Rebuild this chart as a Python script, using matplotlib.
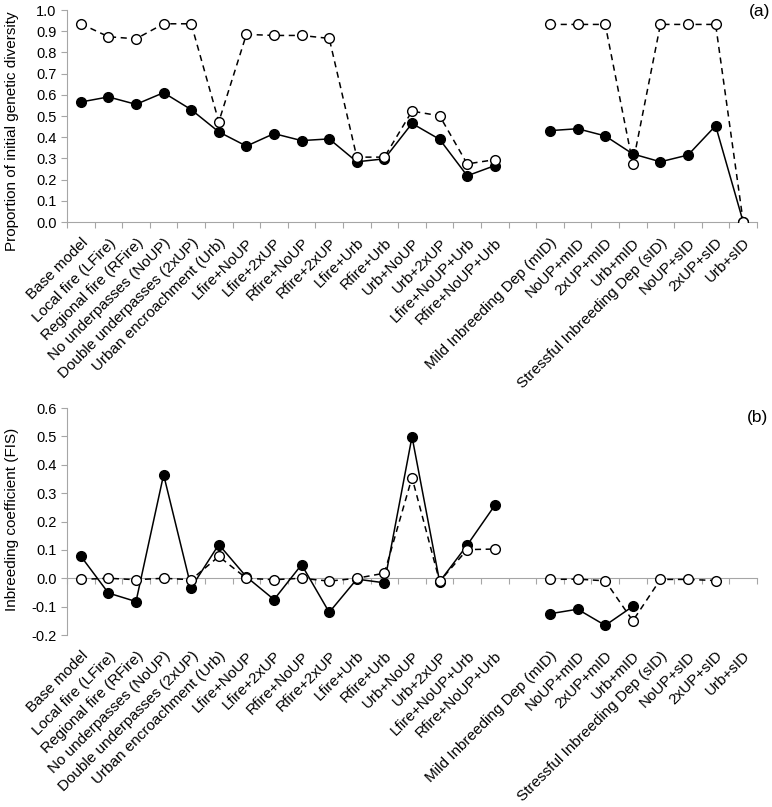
import numpy as np
import matplotlib
matplotlib.use('Agg')
import matplotlib.pyplot as plt

plt.rcParams['font.family'] = ['Liberation Sans', 'DejaVu Sans']

# Scenario names (blank slot separates the two groups)
scenarios = [
    'Base model', 'Local fire (LFire)', 'Regional fire (RFire)',
    'No underpasses (NoUP)', 'Double underpasses (2xUP)',
    'Urban encroachment (Urb)', 'Lfire+NoUP', 'Lfire+2xUP', 'Rfire+NoUP',
    'Rfire+2xUP', 'Lfire+Urb', 'Rfire+Urb', 'Urb+NoUP', 'Urb+2xUP',
    'Lfire+NoUP+Urb', 'Rfire+NoUP+Urb', '',
    'Mild Inbreeding Dep (mID)', 'NoUP+mID', '2xUP+mID', 'Urb+mID',
    'Stressful Inbreeding Dep (sID)', 'NoUP+sID', '2xUP+sID', 'Urb+sID',
]
nan = np.nan

# (a) proportion of initial genetic diversity
div_filled = [0.566, 0.590, 0.555, 0.610, 0.530, 0.425, 0.358, 0.417, 0.384,
              0.392, 0.284, 0.298, 0.465, 0.390, 0.218, 0.266, nan,
              0.431, 0.440, 0.406, 0.321, 0.284, 0.316, 0.454, 0.0]
div_open = [0.935, 0.874, 0.864, 0.935, 0.935, 0.473, 0.885, 0.880, 0.880,
            0.866, 0.306, 0.306, 0.523, 0.501, 0.274, 0.294, nan,
            0.932, 0.932, 0.932, 0.275, 0.932, 0.932, 0.932, 0.0]

# (b) inbreeding coefficient FIS
fis_filled = [0.078, -0.052, -0.082, 0.365, -0.033, 0.119, 0.005, -0.075, 0.048,
              -0.120, -0.003, -0.016, 0.499, -0.012, 0.117, 0.257, nan,
              -0.125, -0.109, -0.166, -0.099, nan, nan, nan, nan]
fis_open = [-0.004, 0.000, -0.005, 0.000, -0.005, 0.077, 0.000, -0.005, 0.000,
            -0.010, 0.000, 0.018, 0.355, -0.011, 0.101, 0.103, nan,
            -0.004, -0.003, -0.009, -0.150, -0.004, -0.004, -0.008, nan]

grey = '#a6a6a6'
fs = 11
x = np.arange(len(scenarios))

fig = plt.figure(figsize=(7.72, 8.07), dpi=100)
ax_a = fig.add_axes([0.0868, 0.7249, 0.8938, 0.2627])
ax_b = fig.add_axes([0.0868, 0.2131, 0.8938, 0.2813])


def style_axis(ax):
    for s in ['top', 'right', 'bottom']:
        ax.spines[s].set_visible(False)
    ax.spines['left'].set_color(grey)
    ax.tick_params(axis='y', colors=grey, labelcolor='black', length=4,
                   labelsize=10.5)
    ax.set_xlim(-0.5, len(scenarios) - 0.5)
    ax.set_xticks(x)
    ax.set_xticklabels(scenarios, rotation=45, ha='right',
                       rotation_mode='anchor', fontsize=fs)
    ax.tick_params(axis='x', length=0, pad=10)
    # category boundary ticks on a gray zero line
    ylo, yhi = ax.get_ylim()
    loc = (0 - ylo) / (yhi - ylo)
    sec = ax.secondary_xaxis(loc)
    sec.spines['bottom'].set_color(grey)
    sec.set_xticks(np.arange(-0.5, len(scenarios), 1.0))
    sec.tick_params(axis='x', colors=grey, length=4, labelbottom=False)


def draw(ax, filled, opn):
    ax.plot(x, filled, '-', color='black', lw=1.1, marker='o', ms=7,
            mfc='black', mec='black', zorder=3)
    ax.plot(x, opn, '--', color='black', lw=1.1, marker='o', ms=7,
            mfc='white', mec='black', mew=1.0, dashes=(4, 3), zorder=4)


# panel (a)
ax_a.set_ylim(0, 1.0)
ax_a.set_yticks(np.arange(0, 1.01, 0.1))
ax_a.set_yticklabels([f'{v:.1f}' for v in np.arange(0, 1.01, 0.1)])
style_axis(ax_a)
draw(ax_a, div_filled, div_open)
ax_a.set_ylabel('Proportion of initial genetic diversity', fontsize=11)
ax_a.yaxis.set_label_coords(-0.07, 0.43)
ax_a.text(1.019, 1.03, '(a)', transform=ax_a.transAxes, ha='right', va='top',
          fontsize=12.5)

# panel (b)
ax_b.set_ylim(-0.2, 0.6)
yt = np.arange(-0.2, 0.61, 0.1)
ax_b.set_yticks(yt)
ax_b.set_yticklabels([f'{v:.1f}' for v in yt])
style_axis(ax_b)
draw(ax_b, fis_filled, fis_open)
ax_b.set_ylabel('Inbreeding coefficient (FIS)', fontsize=11)
ax_b.yaxis.set_label_coords(-0.07, 0.51)
ax_b.text(1.016, 0.99, '(b)', transform=ax_b.transAxes, ha='right', va='top',
          fontsize=12.5)

fig.savefig('out.png', dpi=100)
